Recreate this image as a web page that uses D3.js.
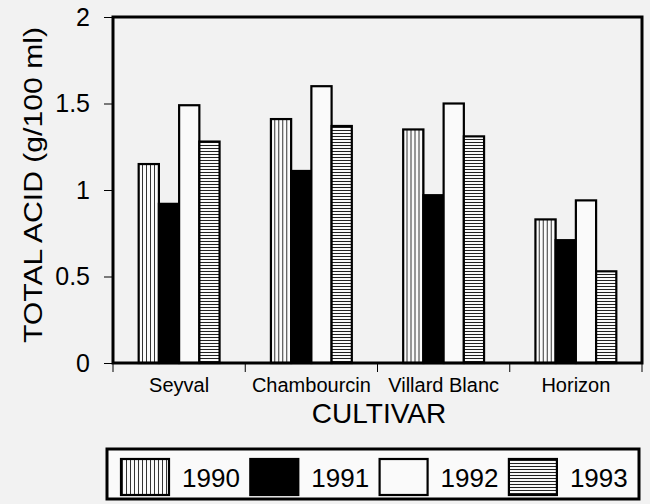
<!DOCTYPE html>
<html lang="en">
<head>
  <meta charset="utf-8">
  <title>Total acid by cultivar</title>
  <script src="https://d3js.org/d3.v7.min.js"></script>
  <style>
  body { margin: 0; background: #f2f2f2; }
  text { font-family: "Liberation Sans", Arial, sans-serif; fill: #000; }
  </style>
</head>
<body>
  <script>
    // values
    var cultivars = ["Seyval", "Chambourcin", "Villard Blanc", "Horizon"];
    var years = ["1990", "1991", "1992", "1993"];
    var acid1990 = [1.15, 1.41, 1.35, 0.83];
    var acid1991 = [0.92, 1.11, 0.97, 0.71];
    var acid1992 = [1.49, 1.60, 1.50, 0.94];
    var acid1993 = [1.28, 1.37, 1.31, 0.53];
    var yTicks = [0, 0.5, 1, 1.5, 2];

    var series = [acid1990, acid1991, acid1992, acid1993];
    var fills = ["url(#vlines)", "#000", "#fafafa", "url(#hlines)"];

    var w = 650, h = 504;
    // plot frame (window.top is taken, so m- prefix)
    var mLeft = 113, mRight = 642, mTop = 17, mBottom = 363;

    var svg = d3.select("body").append("svg")
      .attr("width", w)
      .attr("height", h);

    var defs = svg.append("defs");
    // vertical stripes for 1990
    var pv = defs.append("pattern").attr("id", "vlines")
      .attr("patternUnits", "userSpaceOnUse").attr("width", 4).attr("height", 4);
    pv.append("rect").attr("width", 4).attr("height", 4).attr("fill", "#fafafa");
    pv.append("rect").attr("x", 1).attr("width", 1).attr("height", 4).attr("fill", "#333");
    // horizontal stripes for 1993
    var ph = defs.append("pattern").attr("id", "hlines")
      .attr("patternUnits", "userSpaceOnUse").attr("width", 4).attr("height", 3);
    ph.append("rect").attr("width", 4).attr("height", 3).attr("fill", "#fafafa");
    ph.append("rect").attr("y", 1).attr("width", 4).attr("height", 1).attr("fill", "#222");

    var x = d3.scaleBand().domain(cultivars).range([mLeft, mRight]).padding(0);
    var xYear = d3.scaleBand().domain(years).range([0, x.bandwidth()])
      .paddingInner(0).paddingOuter(1.27);
    var y = d3.scaleLinear().domain([0, 2]).range([mBottom, mTop]);

    // bars
    var groups = svg.selectAll("g.group")
      .data(cultivars)
      .enter()
      .append("g")
      .attr("class", "group")
      .attr("transform", function(d) { return "translate(" + x(d) + ",0)"; });

    groups.selectAll("rect")
      .data(function(d, i) {
        return years.map(function(yr, j) { return {year: yr, j: j, value: series[j][i]}; });
      })
      .enter()
      .append("rect")
      .attr("x", function(d) { return xYear(d.year); })
      .attr("y", function(d) { return y(d.value); })
      .attr("width", xYear.bandwidth())
      .attr("height", function(d) { return mBottom - y(d.value); })
      .attr("fill", function(d) { return fills[d.j]; })
      .attr("stroke", "#000")
      .attr("stroke-width", 2.2);

    // y axis
    var yAxis = svg.append("g")
      .attr("transform", "translate(" + mLeft + ",0)")
      .call(d3.axisLeft(y).tickValues(yTicks).tickSize(9).tickPadding(14)
        .tickFormat(function(d) { return d; }));
    yAxis.select(".domain").remove();
    yAxis.selectAll("text").attr("font-size", 25)
      .attr("font-family", "'Liberation Sans', Arial, sans-serif");

    // x axis: labels centred in bands, ticks on band edges
    var xAxis = svg.append("g")
      .attr("transform", "translate(0," + mBottom + ")")
      .call(d3.axisBottom(x).tickSize(0).tickPadding(15));
    xAxis.select(".domain").remove();
    xAxis.selectAll("text").attr("font-size", 20)
      .attr("font-family", "'Liberation Sans', Arial, sans-serif");

    var edges = cultivars.map(function(c) { return x(c); }).concat([x.range()[1]]);
    svg.selectAll("line.xtick")
      .data(edges)
      .enter()
      .append("line")
      .attr("class", "xtick")
      .attr("x1", function(d) { return d; })
      .attr("x2", function(d) { return d; })
      .attr("y1", mBottom)
      .attr("y2", mBottom + 9)
      .attr("stroke", "#000");

    // frame
    svg.append("rect")
      .attr("x", mLeft).attr("y", mTop)
      .attr("width", mRight - mLeft).attr("height", mBottom - mTop)
      .attr("fill", "none").attr("stroke", "#000").attr("stroke-width", 3);

    // axis titles
    svg.append("text")
      .attr("transform", "translate(42,185) rotate(-90)")
      .attr("text-anchor", "middle")
      .attr("font-size", 25)
      .attr("textLength", 316)
      .attr("lengthAdjust", "spacingAndGlyphs")
      .text("TOTAL ACID (g/100 ml)");

    svg.append("text")
      .attr("x", 379).attr("y", 423)
      .attr("text-anchor", "middle")
      .attr("font-size", 28)
      .text("CULTIVAR");

    // legend
    var legend = svg.append("g");
    legend.append("rect")
      .attr("x", 107).attr("y", 449)
      .attr("width", 532).attr("height", 50)
      .attr("fill", "#fafafa").attr("stroke", "#000").attr("stroke-width", 3);

    var items = legend.selectAll("g.item")
      .data(years)
      .enter()
      .append("g")
      .attr("class", "item")
      .attr("transform", function(d, i) { return "translate(" + (121 + i * 129.3) + ",459)"; });

    items.append("rect")
      .attr("width", 48).attr("height", 36)
      .attr("fill", function(d, i) { return fills[i]; })
      .attr("stroke", "#000").attr("stroke-width", 2.2);

    items.append("text")
      .attr("x", 61).attr("y", 28)
      .attr("font-size", 26)
      .text(function(d) { return d; });
  </script>
</body>
</html>
